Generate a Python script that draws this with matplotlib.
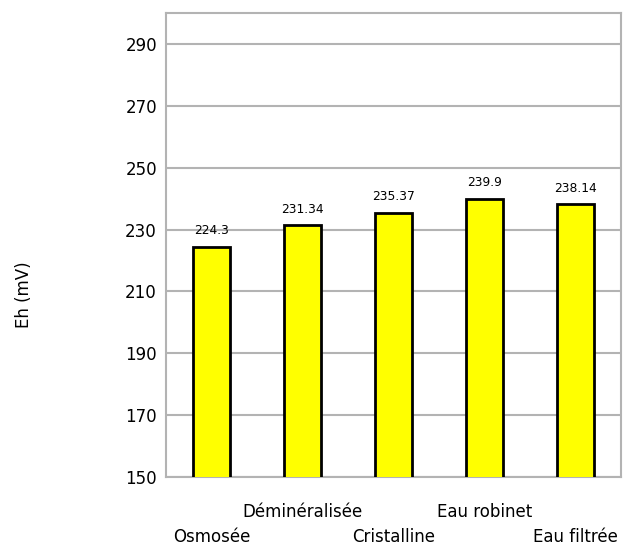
import matplotlib
matplotlib.use("Agg")
import matplotlib.pyplot as plt
import numpy as np

categories = ["Osmosée", "Déminéralisée", "Cristalline", "Eau robinet", "Eau filtrée"]
values = [224.3, 231.34, 235.37, 239.9, 238.14]
value_labels = ["224.3", "231.34", "235.37", "239.9", "238.14"]
yticks = [150, 170, 190, 210, 230, 250, 270, 290]

plt.rcParams['font.family'] = ['DejaVu Sans']

W, H = 629, 547
fig = plt.figure(figsize=(W / 100, H / 100), dpi=100)
# plot area in pixels: left 166, right 621, top 13, bottom 477
ax = fig.add_axes([166 / W, 1 - 477 / H, (621 - 166) / W, (477 - 13) / H])

x = np.arange(len(categories))
ax.bar(x, values, width=0.4, bottom=0, color='#ffff00', edgecolor='black', linewidth=2, zorder=3)
ax.set_xlim(-0.5, len(categories) - 0.5)
ax.set_ylim(150, 300)
ax.set_yticks(yticks)
ax.tick_params(axis='y', length=0, labelsize=12, pad=6.5)
ax.set_xticks([])
ax.grid(axis='y', color='#b3b3b3', lw=1.5, zorder=0)
for s in ax.spines.values():
    s.set_color('#b3b3b3')
    s.set_linewidth(1.5)

for xi, v, lab in zip(x, values, value_labels):
    ax.annotate(lab, (xi, v), xytext=(0, 7), textcoords='offset points',
                ha='center', va='bottom', fontsize=8.8)

# staggered category labels
for i, (xi, c) in enumerate(zip(x, categories)):
    off = -43 if i % 2 == 0 else -25
    ax.annotate(c, (xi, 150), xytext=(0, off), textcoords='offset points',
                ha='center', va='center', fontsize=12, annotation_clip=False)

fig.text(24 / W, 1 - 295 / H, "Eh (mV)", rotation=90, ha='center', va='center', fontsize=12)

fig.savefig("out.png", dpi=100)
